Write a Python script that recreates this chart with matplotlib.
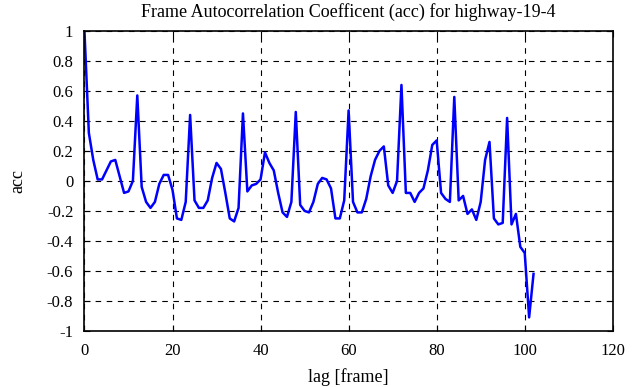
"""Frame autocorrelation coefficient plot for highway-19-4."""

import matplotlib
matplotlib.use("Agg")
import matplotlib.pyplot as plt
from matplotlib.ticker import FuncFormatter

lags = list(range(0, 103))
acc = [
    1.00, 0.32, 0.14, 0.01, 0.01, 0.07, 0.13, 0.14, 0.03, -0.08,
    -0.07, 0.00, 0.57, -0.04, -0.14, -0.18, -0.14, -0.02, 0.04, 0.04,
    -0.06, -0.25, -0.26, -0.14, 0.44, -0.13, -0.18, -0.18, -0.13, 0.02,
    0.12, 0.08, -0.08, -0.25, -0.27, -0.18, 0.45, -0.07, -0.03, -0.02,
    0.01, 0.19, 0.12, 0.07, -0.08, -0.21, -0.24, -0.14, 0.46, -0.16,
    -0.20, -0.21, -0.14, -0.02, 0.02, 0.01, -0.05, -0.25, -0.25, -0.13,
    0.47, -0.14, -0.21, -0.21, -0.12, 0.03, 0.14, 0.20, 0.23, -0.03,
    -0.08, 0.00, 0.64, -0.08, -0.08, -0.14, -0.08, -0.05, 0.07, 0.24,
    0.27, -0.08, -0.12, -0.14, 0.56, -0.13, -0.10, -0.22, -0.19, -0.26,
    -0.14, 0.14, 0.26, -0.25, -0.29, -0.28, 0.42, -0.29, -0.22, -0.44,
    -0.48, -0.91, -0.62,
]
x_ticks = [0, 20, 40, 60, 80, 100, 120]
y_ticks = [-1, -0.8, -0.6, -0.4, -0.2, 0, 0.2, 0.4, 0.6, 0.8, 1]

plt.rcParams["font.family"] = ["Liberation Serif", "DejaVu Serif"]

fig = plt.figure(figsize=(6.35, 3.87), dpi=100)
ax = fig.add_axes([0.133, 0.145, 0.832, 0.775])

ax.plot(lags, acc, color="#0000ff", linewidth=1.8)

ax.set_xlim(0, 120)
ax.set_ylim(-1, 1)
ax.set_xticks(x_ticks)
ax.set_yticks(y_ticks)
ax.yaxis.set_major_formatter(FuncFormatter(lambda v, p: f"{v:g}"))
ax.xaxis.set_major_formatter(FuncFormatter(lambda v, p: f"{v:g}"))
ax.grid(True, color="black", linestyle=(0, (5, 5)), linewidth=0.8)
ax.tick_params(direction="in", length=4, labelsize=12, top=True, right=True)
ax.tick_params(axis="x", pad=9)
ax.tick_params(axis="y", pad=8)
for s in ax.spines.values():
    s.set_linewidth(1.2)

ax.set_xlabel("lag [frame]", fontsize=13, labelpad=6)
ax.set_ylabel("acc", fontsize=13, labelpad=15)
ax.set_title("Frame Autocorrelation Coefficent (acc) for highway-19-4", fontsize=13, pad=10)

fig.savefig("out.png", dpi=100)
